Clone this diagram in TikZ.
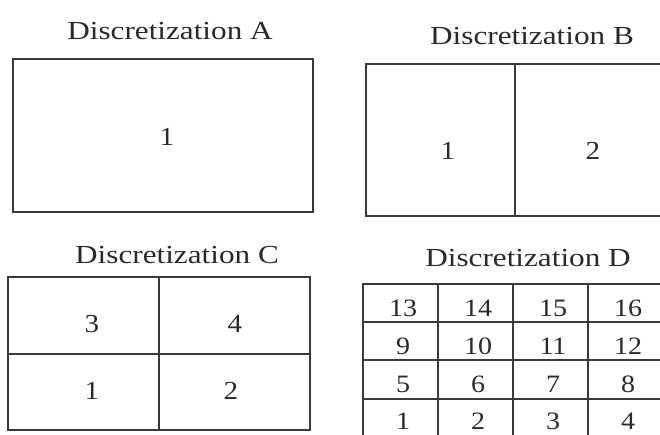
\documentclass[tikz,border=0pt]{standalone}
\usepackage{fontspec}
\newfontfamily\titleserif[FakeStretch=1.2]{Liberation Serif}
\newfontfamily\gridserif[FakeStretch=1.12]{Liberation Serif}
\definecolor{inkline}{HTML}{3A3A3A}
\definecolor{inktext}{HTML}{2A2A2A}
\begin{document}
\begin{tikzpicture}[x=1pt,y=-1pt,
  cell/.style 2 args={draw=inkline, line width=1.4pt, inner sep=0pt,
    minimum width=#1, minimum height=#2},
  title/.style={text=inktext, anchor=base, inner sep=0pt,
    font=\titleserif\fontsize{26}{30}\selectfont},
  bignum/.style={text=inktext, inner sep=0pt,
    font=\gridserif\fontsize{26}{30}\selectfont},
  smallnum/.style={text=inktext, inner sep=0pt,
    font=\gridserif\fontsize{25}{29}\selectfont}]
\clip (0,0) rectangle (660,434);
\fill[white] (0,0) rectangle (660,434);

% Discretization A: a single cell
\node[title] (ta) at (170,39) {Discretization A};
\node[cell={300}{153}] (a1) at (163,135.5) {};
\node[bignum] (na1) at (167,137) {1};

% Discretization B: two cells side by side
\node[title] (tb) at (532,44) {Discretization B};
\node[cell={149}{152}] (b1) at (440.5,140) {};
\node[cell={153}{152}] (b2) at (591.5,140) {};
\node[bignum] (nb1) at (448,151) {1};
\node[bignum] (nb2) at (593,151) {2};

% Discretization C: 2 x 2 cells
\node[title] (tc) at (177,263) {Discretization C};
\node[cell={151}{77}] (c3) at (83.5,315.5) {};
\node[cell={151}{77}] (c4) at (234.5,315.5) {};
\node[cell={151}{76}] (c1) at (83.5,392) {};
\node[cell={151}{76}] (c2) at (234.5,392) {};
\node[bignum] (nc3) at (92,324) {3};
\node[bignum] (nc4) at (235,324) {4};
\node[bignum] (nc1) at (92,391) {1};
\node[bignum] (nc2) at (231,391) {2};

% Discretization D: 4 x 4 cells, numbered from the bottom row up
\node[title] (td) at (528,266) {Discretization D};
\foreach \r/\y/\s in {0/418/-3.5,1/379.5/-5,2/341/-5,3/303/-5}{
  \foreach \c/\x in {0/400.5,1/475.5,2/550.5,3/625.5}{
    \pgfmathtruncatemacro{\k}{4*\r+\c+1}
    \node[cell={75}{38}] (d\k) at (\x,\y) {};
    \node[smallnum] (nd\k) at ([xshift=2.5pt,yshift=\s pt]d\k.center) {\k};
  }
}
\end{tikzpicture}
\end{document}
